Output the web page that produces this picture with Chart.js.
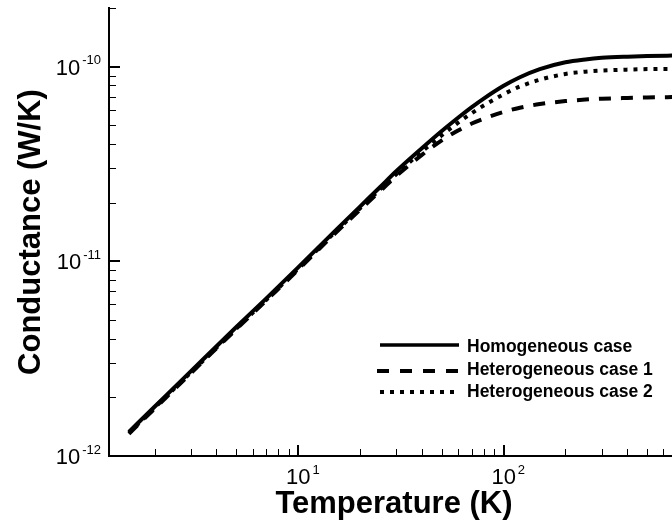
<!DOCTYPE html>
<html>
<head>
<meta charset="utf-8">
<title>Conductance vs temperature</title>
<script src="https://cdn.jsdelivr.net/npm/chart.js@4/dist/chart.umd.min.js"></script>
<style>
    html, body { margin: 0; padding: 0; background: #fff; }
    #wrap { width: 672px; height: 530px; }
</style>
</head>
<body>
<div id="wrap"><canvas id="chart" width="672" height="530"></canvas></div>
<script>
// Valeurs (K, W/K)
const temperatures   = [1.5, 2, 3, 5, 7, 10, 15, 20, 25, 30, 40, 50, 60, 70, 80, 100, 120, 150, 200, 250, 300, 400, 500, 700];
const homogeneous    = [1.33e-12, 1.79e-12, 2.72e-12, 4.6e-12, 6.45e-12, 9.3e-12, 1.42e-11, 1.91e-11, 2.4e-11, 2.9e-11, 3.81e-11, 4.67e-11, 5.46e-11, 6.19e-11, 6.85e-11, 7.97e-11, 8.82e-11, 9.71e-11, 1.053e-10, 1.089e-10, 1.109e-10, 1.125e-10, 1.133e-10, 1.141e-10];
const heterogeneous1 = [1.3e-12, 1.75e-12, 2.66e-12, 4.48e-12, 6.3e-12, 9.05e-12, 1.38e-11, 1.84e-11, 2.29e-11, 2.74e-11, 3.52e-11, 4.18e-11, 4.7e-11, 5.1e-11, 5.4e-11, 5.85e-11, 6.15e-11, 6.42e-11, 6.65e-11, 6.77e-11, 6.84e-11, 6.9e-11, 6.94e-11, 6.98e-11];
const heterogeneous2 = [1.31e-12, 1.77e-12, 2.68e-12, 4.52e-12, 6.35e-12, 9.15e-12, 1.4e-11, 1.87e-11, 2.34e-11, 2.8e-11, 3.66e-11, 4.44e-11, 5.15e-11, 5.77e-11, 6.31e-11, 7.21e-11, 7.9e-11, 8.56e-11, 9.17e-11, 9.42e-11, 9.54e-11, 9.65e-11, 9.71e-11, 9.74e-11];

const seriesLabels = ['Homogeneous case', 'Heterogeneous case 1', 'Heterogeneous case 2'];
const xTickExponents = [1, 2];
const yTickExponents = [-12, -11, -10];
const xTitle = 'Temperature (K)';
const yTitle = 'Conductance (W/K)';

const ink = '#000';
const family = "'Liberation Sans', Arial, sans-serif";
const dashes = [[], [12, 10], [4, 6]];
const legendDashes = [[], [12, 11], [4, 6]];

function points(values) {
    return temperatures.map(function (t, i) { return { x: t, y: values[i] }; });
}

// "10" + exposant, comme sur la figure d'origine
function drawPower(ctx, exp, x, baseline, mode) {
    ctx.font = '22px ' + family;
    const baseW = ctx.measureText('10').width;
    ctx.font = '13px ' + family;
    const expText = String(exp);
    const expW = ctx.measureText(expText).width;
    const left = mode === 'right' ? x - expW - 2 - baseW : x - baseW / 2;
    ctx.textAlign = 'left';
    ctx.textBaseline = 'alphabetic';
    ctx.font = '22px ' + family;
    ctx.fillText('10', left, baseline);
    ctx.font = '13px ' + family;
    ctx.fillText(expText, left + baseW + 2, baseline - 10.5);
}

function segment(ctx, x1, y1, x2, y2) {
    ctx.beginPath();
    ctx.moveTo(x1, y1);
    ctx.lineTo(x2, y2);
    ctx.stroke();
}

const axesPlugin = {
    id: 'axesTecplot',
    afterDatasetsDraw: function (chart) {
        const ctx = chart.ctx;
        const a = chart.chartArea;
        const xs = chart.scales.x;
        const ys = chart.scales.y;
        ctx.save();
        ctx.strokeStyle = ink;
        ctx.fillStyle = ink;
        ctx.setLineDash([]);

        // petites graduations, vers l'intérieur
        ctx.lineWidth = 1;
        for (let e = 0; e <= 3; e++) {
            for (let m = 2; m <= 9; m++) {
                const v = m * Math.pow(10, e);
                if (v < xs.min || v > xs.max) continue;
                const px = Math.round(xs.getPixelForValue(v)) + 0.5;
                segment(ctx, px, a.bottom, px, a.bottom - 7);
            }
        }
        for (let e = -12; e <= -10; e++) {
            for (let m = 2; m <= 9; m++) {
                const v = m * Math.pow(10, e);
                if (v < ys.min || v > ys.max) continue;
                const py = Math.round(ys.getPixelForValue(v)) + 0.5;
                segment(ctx, a.left, py, a.left + 7, py);
            }
        }

        // grandes graduations
        ctx.lineWidth = 2;
        xTickExponents.forEach(function (e) {
            const px = Math.round(xs.getPixelForValue(Math.pow(10, e)));
            segment(ctx, px, a.bottom, px, a.bottom - 11);
        });
        yTickExponents.forEach(function (e) {
            const py = Math.round(ys.getPixelForValue(Math.pow(10, e)));
            segment(ctx, a.left, py, a.left + 11, py);
        });

        // axes
        segment(ctx, a.left, a.top - 1, a.left, a.bottom + 1);
        segment(ctx, a.left - 1, a.bottom, a.right, a.bottom);

        // étiquettes
        xTickExponents.forEach(function (e) {
            drawPower(ctx, e, xs.getPixelForValue(Math.pow(10, e)), 484, 'center');
        });
        yTickExponents.forEach(function (e) {
            drawPower(ctx, e, 101, ys.getPixelForValue(Math.pow(10, e)) + 8, 'right');
        });

        // titres
        ctx.font = 'bold 31px ' + family;
        ctx.textAlign = 'center';
        ctx.textBaseline = 'alphabetic';
        ctx.fillText(xTitle, 394, 513);
        ctx.save();
        ctx.translate(40, 232);
        ctx.rotate(-Math.PI / 2);
        ctx.fillText(yTitle, 0, 0);
        ctx.restore();

        // légende
        const rowsLine = [345, 371, 392];
        const rowsText = [352, 375, 397];
        ctx.font = 'bold 17.5px ' + family;
        ctx.textAlign = 'left';
        seriesLabels.forEach(function (label, i) {
            ctx.lineWidth = i === 0 ? 3.5 : 4;
            ctx.lineCap = 'butt';
            ctx.setLineDash(legendDashes[i]);
            const x0 = i === 1 ? 377 : 380;
            segment(ctx, x0, rowsLine[i], 459, rowsLine[i]);
            ctx.setLineDash([]);
            ctx.fillText(label, 467, rowsText[i]);
        });
        ctx.restore();
    }
};

new Chart(document.getElementById('chart'), {
    type: 'line',
    data: {
        datasets: [homogeneous, heterogeneous1, heterogeneous2].map(function (vals, i) {
            return {
                label: seriesLabels[i],
                data: points(vals),
                borderColor: ink,
                borderWidth: 4,
                borderDash: dashes[i],
                borderCapStyle: 'butt',
                pointRadius: 0,
                cubicInterpolationMode: 'monotone',
                fill: false
            };
        })
    },
    options: {
        responsive: false,
        animation: false,
        devicePixelRatio: 1,
        layout: { padding: { left: 109, top: 8, right: 0, bottom: 74 } },
        plugins: { legend: { display: false }, tooltip: { enabled: false } },
        scales: {
            x: { type: 'logarithmic', min: 1.2, max: 660, display: false },
            y: { type: 'logarithmic', min: 1e-12, max: 2e-10, display: false }
        }
    },
    plugins: [axesPlugin]
});
</script>
</body>
</html>
